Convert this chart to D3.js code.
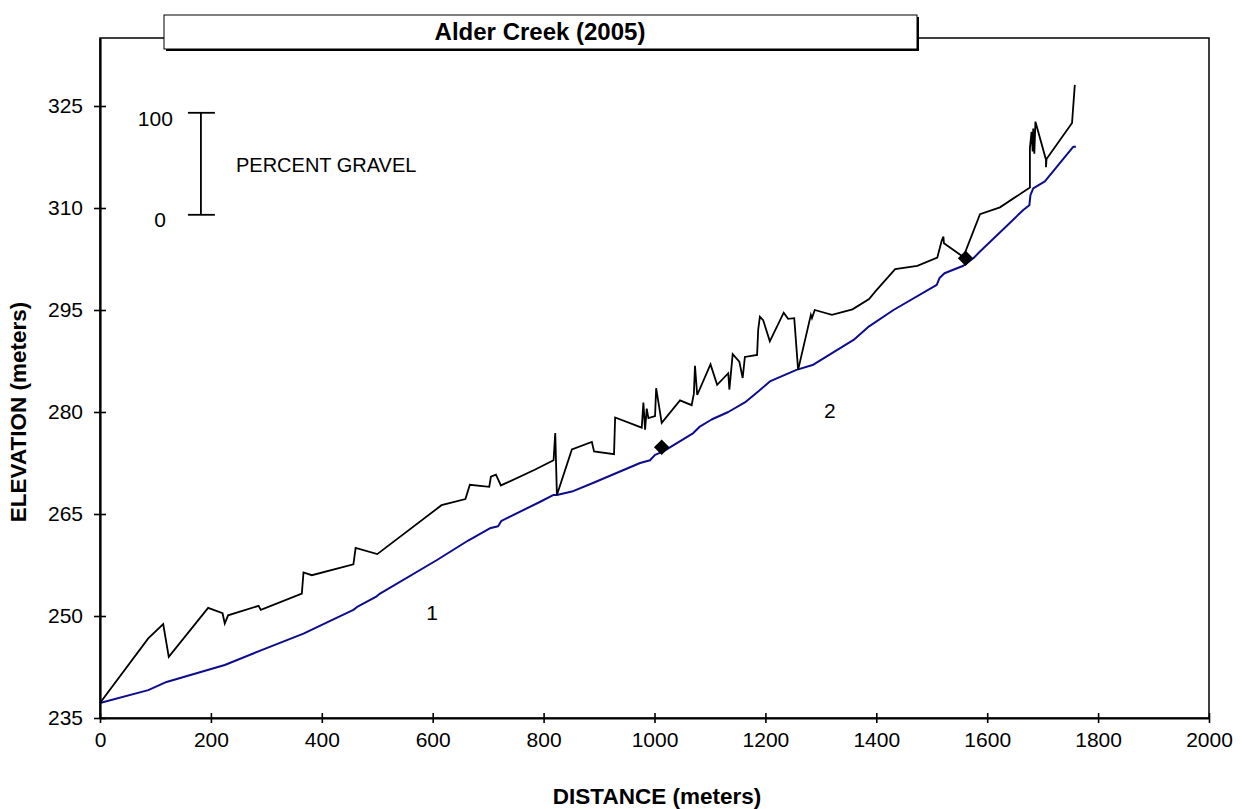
<!DOCTYPE html>
<html><head><meta charset="utf-8">
<script src="https://cdn.jsdelivr.net/npm/d3@7"></script>
<style>
html,body{margin:0;padding:0;background:#fff;}
svg{display:block;font-family:"Liberation Sans",Arial,sans-serif;}
</style></head>
<body>
<svg id="chart" width="1242" height="809"></svg>
<script>
// ---- data ----
const title = "Alder Creek (2005)";
const xTicks = [0,200,400,600,800,1000,1200,1400,1600,1800,2000];
const yTicks = [235,250,265,280,295,310,325];
// gravel profile line (distance m, plotted elevation m)
const gravelDistance = [0,87,114,124,195,221,225,231,286,290,364,367,382,457,461,500,616,659,667,702,705,714,723,784,818,821,824,851,887,891,927,929,977,980,983,986,989,1001,1003,1013,1046,1067,1071,1073,1077,1101,1113,1133,1135,1141,1153,1159,1163,1185,1187,1190,1196,1208,1233,1241,1252,1259,1282,1284,1289,1320,1357,1387,1398,1434,1474,1510,1518,1521,1522,1557,1587,1623,1677,1677,1680,1682,1683,1685,1687,1706,1706,1707,1753,1758];
const gravelElevation = [237.2,246.7,248.8,244.0,251.2,250.4,248.9,250.1,251.5,250.9,253.3,256.4,256.0,257.6,260.0,259.1,266.3,267.2,269.3,269.0,270.5,270.8,269.2,271.5,272.9,276.9,267.8,274.5,275.6,274.2,273.8,279.2,277.7,281.4,277.4,280.5,279.1,279.4,283.5,278.4,281.7,281.0,282.7,286.8,282.5,287.0,284.0,285.7,283.3,288.5,287.4,285.0,288.1,288.4,292.1,294.0,293.5,290.4,294.6,293.7,293.8,286.2,294.3,293.8,295.0,294.3,295.1,296.6,297.7,301.0,301.5,302.7,305.2,305.8,304.8,302.8,309.1,310.1,313.0,318.8,321.2,318.3,321.7,318.0,322.7,317.1,316.0,317.2,322.5,328.1];
// thalweg (bed) elevation profile
const bedDistance = [0,87,120,225,289,367,418,457,463,499,505,607,664,703,718,724,794,818,824,851,890,974,992,1001,1016,1070,1081,1103,1133,1163,1187,1208,1256,1285,1359,1387,1431,1509,1514,1523,1557,1575,1587,1665,1676,1678,1683,1704,1755,1760];
const bedElevation = [237.2,239.1,240.3,242.8,244.9,247.4,249.4,250.9,251.3,252.9,253.3,258.2,261.1,262.9,263.2,264.0,266.8,267.8,267.8,268.3,269.6,272.5,272.9,273.7,274.2,276.9,277.8,278.9,280.0,281.4,283.0,284.5,286.2,286.9,290.6,292.6,295.0,298.7,299.7,300.4,301.5,302.6,303.6,309.7,310.4,311.9,312.9,313.9,319.0,319.0];
// reach boundary markers
const markerDistance = [1013,1561];
const markerElevation = [274.8,302.6];
// reach labels
const reachLabels = ["1","2"];
const reachDistance = [599,1316];
const reachElevation = [250.6,280.3];
// percent gravel scale bar
const scaleLabels = ["0","100"];
const scaleBarDistance = 182;
const scaleBarElevation = [309,324]; // 0% .. 100%

// ---- layout ----
const svg = d3.select("#chart");
const x = d3.scaleLinear().domain([0,2000]).range([100,1209]);
const y = d3.scaleLinear().domain([235,335]).range([718,38]);
const font = "Liberation Sans, Arial, sans-serif";

// frame (top & right)
svg.append("rect").attr("x",x(0)).attr("y",y(335)).attr("width",x(2000)-x(0)).attr("height",y(235)-y(335))
  .attr("fill","none").attr("stroke","#000").attr("stroke-width",1.5);

// lines
const line = d3.line().x(d=>x(d[0])).y(d=>y(d[1]));
svg.append("path").datum(bedDistance.map((d,i)=>[d,bedElevation[i]]))
  .attr("d",line).attr("fill","none").attr("stroke","#0c0c8c").attr("stroke-width",2).attr("stroke-linejoin","round");
svg.append("path").datum(gravelDistance.map((d,i)=>[d,gravelElevation[i]]))
  .attr("d",line).attr("fill","none").attr("stroke","#000").attr("stroke-width",1.8).attr("stroke-linejoin","miter");

// markers
svg.selectAll("path.mk").data(markerDistance.map((d,i)=>[d,markerElevation[i]])).join("path")
  .attr("class","mk").attr("d",d3.symbol(d3.symbolSquare,120)())
  .attr("transform",d=>`translate(${x(d[0])},${y(d[1])}) rotate(45)`).attr("fill","#000");

// axes
const xAxis = svg.append("g").attr("transform",`translate(0,${y(235)})`)
  .call(d3.axisBottom(x).tickValues(xTicks).tickSize(5).tickSizeOuter(0).tickFormat(d3.format("d")));
const yAxis = svg.append("g").attr("transform",`translate(${x(0)},0)`)
  .call(d3.axisLeft(y).tickValues(yTicks).tickSize(6).tickSizeOuter(0).tickFormat(d3.format("d")));
[xAxis,yAxis].forEach(g=>{
  g.select(".domain").attr("stroke","#000").attr("stroke-width",2.2);
  g.selectAll(".tick line").attr("stroke","#000").attr("stroke-width",1.6);
  g.selectAll("text").attr("font-family",font).attr("font-size",21).attr("fill","#000");
});
xAxis.selectAll(".tick line").attr("y1",-5).attr("y2",5);
xAxis.selectAll(".tick text").attr("y",14);
yAxis.selectAll(".tick line").attr("x1",6).attr("x2",-6);
yAxis.selectAll(".tick text").attr("x",-17);

// axis titles
svg.append("text").attr("x",657).attr("y",804).attr("text-anchor","middle")
  .attr("font-family",font).attr("font-weight","bold").attr("font-size",22.5).text("DISTANCE (meters)");
svg.append("text").attr("transform",`translate(26,${(y(235)+y(325))/2}) rotate(-90)`).attr("text-anchor","middle")
  .attr("font-family",font).attr("font-weight","bold").attr("font-size",22.5).text("ELEVATION (meters)");

// title box with shadow
svg.append("rect").attr("x",166).attr("y",17).attr("width",753).attr("height",34).attr("fill","#000");
svg.append("rect").attr("x",164).attr("y",15).attr("width",753).attr("height",34).attr("fill","#fff")
  .attr("stroke","#000").attr("stroke-width",1);
svg.append("text").attr("x",540).attr("y",40).attr("text-anchor","middle")
  .attr("font-family",font).attr("font-weight","bold").attr("font-size",24).text(title);

// reach labels
svg.selectAll("text.reach").data(reachLabels).join("text").attr("class","reach")
  .attr("x",(d,i)=>x(reachDistance[i])).attr("y",(d,i)=>y(reachElevation[i])+8)
  .attr("text-anchor","middle").attr("font-family",font).attr("font-size",21).text(d=>d);

// percent gravel scale bar
const sx = x(scaleBarDistance);
svg.append("line").attr("x1",sx).attr("x2",sx).attr("y1",y(scaleBarElevation[0])).attr("y2",y(scaleBarElevation[1]))
  .attr("stroke","#000").attr("stroke-width",1.8);
scaleBarElevation.forEach((e,i)=>{
  svg.append("line").attr("x1",sx-13).attr("x2",sx+14).attr("y1",y(e)).attr("y2",y(e)).attr("stroke","#000").attr("stroke-width",1.8);
  svg.append("text").attr("x",i===0?sx-35:sx-28).attr("y",y(e)+(i===0?12:13)).attr("text-anchor","end")
    .attr("font-family",font).attr("font-size",21).text(scaleLabels[i]);
});
svg.append("text").attr("x",236).attr("y",y((scaleBarElevation[0]+scaleBarElevation[1])/2)+8)
  .attr("font-family",font).attr("font-size",20).text("PERCENT GRAVEL");
</script>
</body></html>
